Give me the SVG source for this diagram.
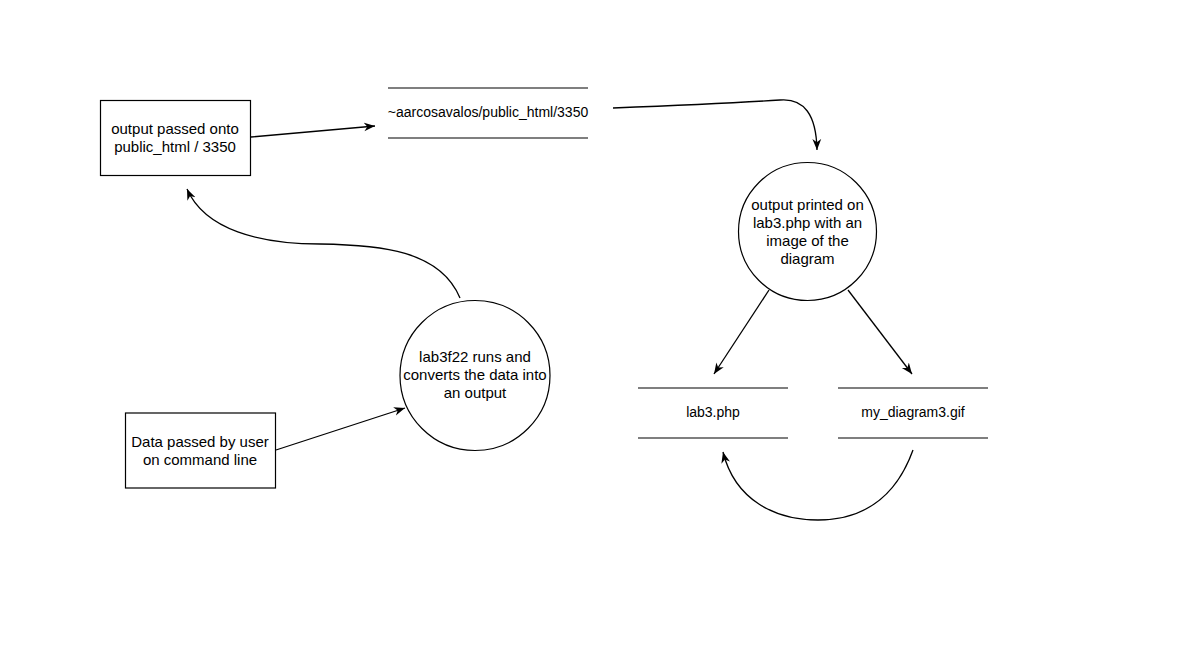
<svg xmlns="http://www.w3.org/2000/svg" width="1202" height="651" viewBox="0 0 1202 651">
<style>
.n{fill:#fff;stroke:#000;stroke-width:1.2}
.st{stroke:#000;stroke-width:1.2;fill:none}
.e{stroke:#000;stroke-width:1.3;fill:none;marker-end:url(#arr)}
text{font-family:"Liberation Sans",Arial,sans-serif;font-size:15px;fill:#000;text-anchor:middle}
.s{font-size:14px}
</style>
<defs>
<marker id="arr" markerUnits="userSpaceOnUse" viewBox="0 0 10 10" refX="10" refY="5" markerWidth="11" markerHeight="11" orient="auto">
<path d="M0,1 L10,5 L0,9 L3,5 Z" fill="#000"/>
</marker>
</defs>
<rect width="1202" height="651" fill="#fff"/>
<g id="connectors">
<path class="e" d="M251,137 L375,126"/>
<path class="e" d="M613,108 Q720,104 780,100 Q816,97 817,150"/>
<path class="e" d="M769,290 L714,374"/>
<path class="e" d="M848,290 L912,374"/>
<path class="e" d="M913,450 C895,500 860,520 818,520 C775,520 735,500 723,452"/>
<path class="e" d="M460,298 C440,250 380,245 320,244 C260,244 205,230 187,189"/>
<path class="e" d="M276,450 L405,408"/>
</g>
<g id="output-passed">
<rect class="n" x="100.5" y="100.5" width="150" height="75"/>
<text x="175" y="134">output passed onto</text>
<text x="175" y="152">public_html / 3350</text>
</g>
<g id="store-public-html">
<line class="st" x1="388" y1="88" x2="588" y2="88"/>
<line class="st" x1="388" y1="138" x2="588" y2="138"/>
<text class="s" x="488" y="117">~aarcosavalos/public_html/3350</text>
</g>
<g id="output-printed">
<circle class="n" cx="807.5" cy="231.5" r="69"/>
<text x="807.5" y="210">output printed on</text>
<text x="807.5" y="228">lab3.php with an</text>
<text x="807.5" y="246">image of the</text>
<text x="807.5" y="264">diagram</text>
</g>
<g id="store-lab3">
<line class="st" x1="638" y1="388" x2="788" y2="388"/>
<line class="st" x1="638" y1="438" x2="788" y2="438"/>
<text class="s" x="713" y="417">lab3.php</text>
</g>
<g id="store-diagram">
<line class="st" x1="838" y1="388" x2="988" y2="388"/>
<line class="st" x1="838" y1="438" x2="988" y2="438"/>
<text class="s" x="913" y="417">my_diagram3.gif</text>
</g>
<g id="lab3f22">
<circle class="n" cx="475" cy="375.5" r="75"/>
<text x="475" y="362">lab3f22 runs and</text>
<text x="475" y="380">converts the data into</text>
<text x="475" y="398">an output</text>
</g>
<g id="data-passed">
<rect class="n" x="125.5" y="413" width="150" height="75"/>
<text x="200" y="447">Data passed by user</text>
<text x="200" y="465">on command line</text>
</g>
</svg>
